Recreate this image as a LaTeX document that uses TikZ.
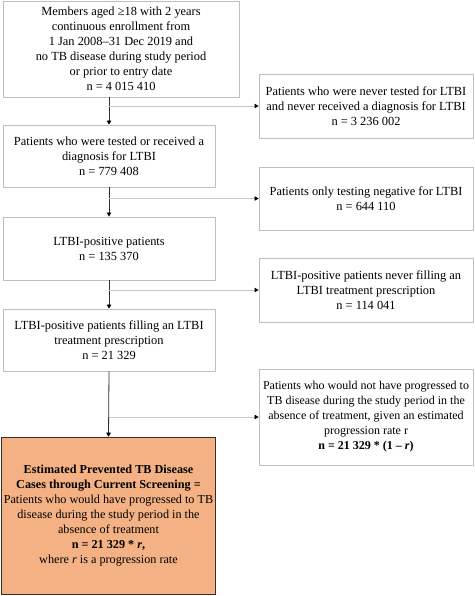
\documentclass[tikz,border=0pt]{standalone}
\usepackage{fontspec}
\setmainfont{Liberation Serif}
\usetikzlibrary{arrows.meta}
\definecolor{boxgray}{HTML}{BFBFBF}
\definecolor{linegray}{HTML}{C8C8C8}
\definecolor{spine}{HTML}{303030}
\definecolor{orangefill}{HTML}{F4B183}
\definecolor{orangeedge}{HTML}{3A2C24}
\begin{document}
\begin{tikzpicture}[x=1pt,y=-1pt,
  stagebox/.style={draw=boxgray, line width=0.9pt, fill=white, align=center, inner sep=1pt,
    font=\fontsize{12.4}{15}\selectfont},
  resultbox/.style={draw=orangeedge, line width=1.6pt, fill=orangefill, align=center, inner sep=1pt,
    font=\fontsize{12.2}{15}\selectfont},
  downarrow/.style={draw=spine, line width=0.8pt, -{Triangle[length=4pt,width=4.5pt,color=black]}},
  sidearrow/.style={draw=linegray, line width=0.8pt, -{Triangle[length=4pt,width=4.5pt,color=black]}}
]
\useasboundingbox (0,0) rectangle (474,596);
\fill[white] (0,0) rectangle (474,596);

\node[stagebox, minimum width=236pt, minimum height=96pt] (members) at (121,49)
  {Members aged ≥18 with 2 years\\continuous enrollment from\\1 Jan 2008–31 Dec 2019 and\\no TB disease during study period\\or prior to entry date\\n = 4 015 410};

\node[stagebox, minimum width=214pt, minimum height=64pt] (never) at (366,106)
  {Patients who were never tested for LTBI\\and never received a diagnosis for LTBI\\n = 3 236 002};

\node[stagebox, minimum width=212pt, minimum height=62pt] (tested) at (109,156)
  {Patients who were tested or received a\\diagnosis for LTBI\\n = 779 408};

\node[stagebox, minimum width=214pt, minimum height=63pt] (negative) at (366,198.5)
  {Patients only testing negative for LTBI\\n = 644 110};

\node[stagebox, minimum width=212pt, minimum height=63pt] (positive) at (109,248.5)
  {LTBI-positive patients\\n = 135 370};

\node[stagebox, minimum width=214pt, minimum height=64pt] (notfill) at (366,290)
  {LTBI-positive patients never filling an\\LTBI treatment prescription\\n = 114 041};

\node[stagebox, minimum width=212pt, minimum height=62pt] (filling) at (109,340)
  {LTBI-positive patients filling an LTBI\\treatment prescription\\n = 21 329};

\node[stagebox, minimum width=214pt, minimum height=96pt, font=\fontsize{12}{15}\selectfont] (notprog) at (366,417)
  {Patients who would not have progressed to\\TB disease during the study period in the\\absence of treatment, given an estimated\\progression rate r\\\textbf{n = 21 329 * (1 – \textit{r})}};

\node[resultbox, minimum width=214pt, minimum height=157pt] (prevented) at (108.5,516)
  {\textbf{Estimated Prevented TB Disease}\\\textbf{Cases through Current Screening =}\\Patients who would have progressed to TB\\disease during the study period in the\\absence of treatment\\\textbf{n = 21 329 * \textit{r},}\\where \textit{r} is a progression rate};

% spine
\draw[downarrow] (members.south -| tested.north) -- (tested.north);
\draw[downarrow] (tested.south) -- (positive.north);
\draw[downarrow] (positive.south) -- (filling.north);
\draw[downarrow] (filling.south) -- (prevented.north);

% side branches
\draw[sidearrow] (never.west -| tested.north) -- (never.west);
\draw[sidearrow] (negative.west -| tested.north) -- (negative.west);
\draw[sidearrow] (notfill.west -| tested.north) -- (notfill.west);
\draw[sidearrow] (notprog.west -| tested.north) -- (notprog.west);
\end{tikzpicture}
\end{document}
